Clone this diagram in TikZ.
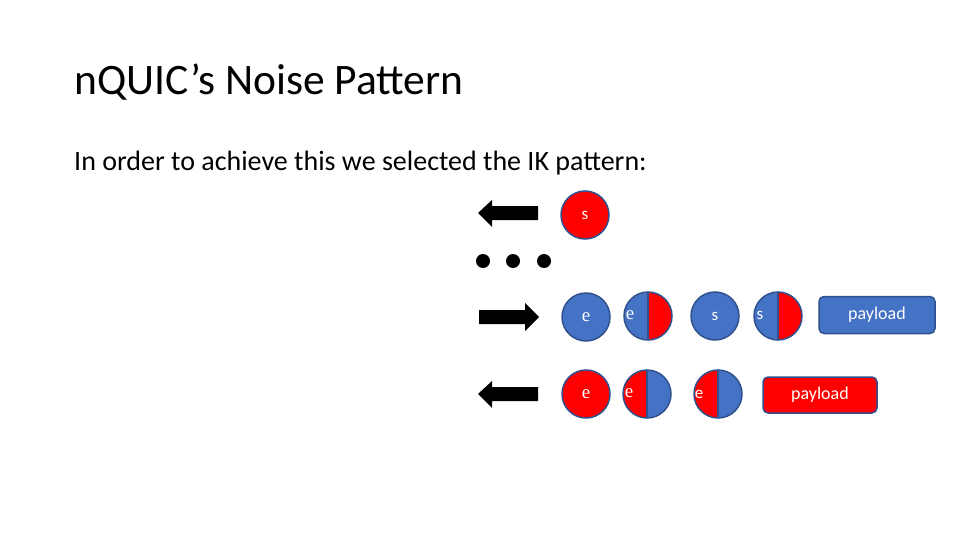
\documentclass[tikz,border=0pt]{standalone}
\usepackage{fontspec}
\setmainfont{Carlito}
\newfontfamily\serifalt{Liberation Serif}
\definecolor{pblue}{HTML}{4472C4}
\definecolor{pred}{HTML}{FF0000}
\definecolor{pline}{HTML}{2F528F}
\begin{document}
\begin{tikzpicture}[x=1pt,y=-1pt,
  disc/.style={circle, draw=pline, line width=1.5pt, minimum size=48pt, inner sep=0pt,
    text=white, font=\fontsize{17}{17}\selectfont},
  bluedisc/.style={disc, fill=pblue},
  reddisc/.style={disc, fill=pred},
  halfbr/.style={disc, fill=pblue, path picture={
      \fill[pred] (path picture bounding box.north) rectangle (path picture bounding box.south east);
      \draw[pline, line width=1.5pt] (path picture bounding box.north) -- (path picture bounding box.south);}},
  halfrb/.style={disc, fill=pred, path picture={
      \fill[pblue] (path picture bounding box.north) rectangle (path picture bounding box.south east);
      \draw[pline, line width=1.5pt] (path picture bounding box.north) -- (path picture bounding box.south);}},
  lbl/.style={text=white, inner sep=0pt, font=\fontsize{17}{17}\selectfont},
  serifl/.style={lbl, font=\fontsize{19}{19}\serifalt},
  payload/.style={draw=pline, line width=1.5pt, rounded corners=5pt, text=white,
    font=\fontsize{18}{18}\selectfont, inner sep=0pt},
  dot/.style={circle, fill=black, minimum size=14pt, inner sep=0pt},
  blockarrow/.style={fill=black}
]
\useasboundingbox (0,0) rectangle (960,540);

% texts
\node[anchor=base west, inner sep=0pt, font=\fontsize{43.5}{44}\selectfont] (title) at (74,95) {nQUIC’s Noise Pattern};
\node[anchor=base west, inner sep=0pt, font=\fontsize{28}{28}\selectfont] (body) at (74,171) {In order to achieve this we selected the IK pattern:};

% row 1
\fill[blockarrow] (478,213) -- (492,200) -- (492,206) -- (538,206) -- (538,220) -- (492,220) -- (492,227) -- cycle;
\node[reddisc] (s1) at (585,215) {s};

% dots
\node[dot] (d1) at (483,261) {};
\node[dot] (d2) at (513,261) {};
\node[dot] (d3) at (544,261) {};

% row 2
\fill[blockarrow] (539,317) -- (525,303) -- (525,310) -- (479,310) -- (479,324) -- (525,324) -- (525,331) -- cycle;
\node[bluedisc, font=\fontsize{19}{19}\serifalt] (e2) at (586,317) {e};
\node[halfbr] (h2) at (648,316) {};
\node[serifl] (h2t) at ([xshift=-18pt,yshift=1pt]h2.center) {e};
\node[bluedisc] (s2) at (715,316) {s};
\node[halfbr] (hs2) at (778,316) {};
\node[lbl] (hs2t) at ([xshift=-18pt,yshift=1pt]hs2.center) {s};
\node[payload, fill=pblue, minimum width=116pt, minimum height=37pt] (p2) at (877,315) {payload};

% row 3
\fill[blockarrow] (478,394) -- (492,381) -- (492,387) -- (538,387) -- (538,401) -- (492,401) -- (492,408) -- cycle;
\node[reddisc, font=\fontsize{19}{19}\serifalt] (e3) at (586,394) {e};
\node[halfrb] (h3) at (647,394) {};
\node[serifl] (h3t) at ([xshift=-18pt,yshift=1pt]h3.center) {e};
\node[halfrb] (he3) at (718,394) {};
\node[lbl] (he3t) at ([xshift=-19pt,yshift=0pt]he3.center) {e};
\node[payload, fill=pred, minimum width=114pt, minimum height=36pt] (p3) at (820,395) {payload};
\end{tikzpicture}
\end{document}
